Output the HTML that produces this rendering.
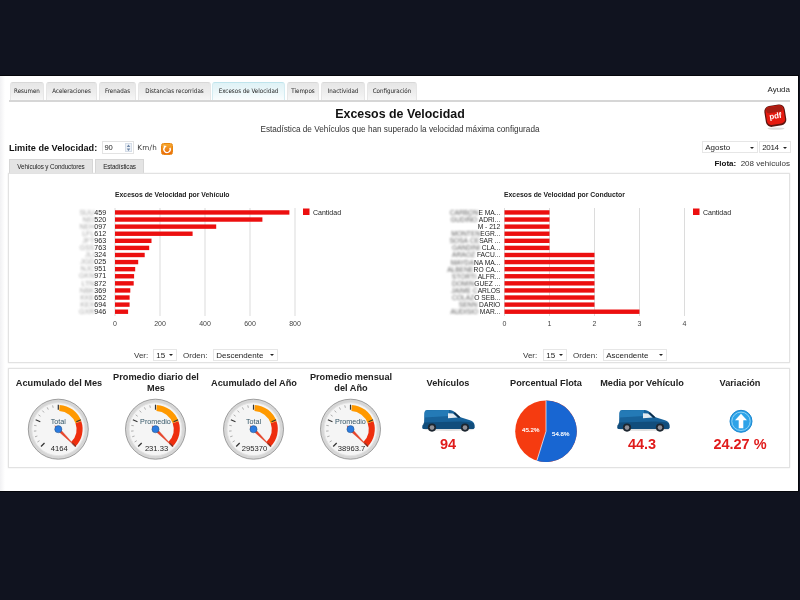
<!DOCTYPE html>
<html><head><meta charset="utf-8"><title>Excesos de Velocidad</title>
<style>
html,body{margin:0;padding:0}
body{width:800px;height:600px;overflow:hidden;background:#10131f;font-family:"Liberation Sans",Arial,sans-serif;position:relative;color:#222}
#page{position:absolute;left:0;top:76px;width:798px;height:415px;background:linear-gradient(90deg,#f1f1f3,#fff 5px);box-shadow:0 0 0 1px #05060b}
#soft{position:absolute;left:0;top:0;width:798px;height:415px;filter:blur(0.35px)}
.abs{position:absolute;white-space:nowrap}
.tab{position:absolute;top:6px;height:17.5px;background:linear-gradient(#e6e6e6,#eee 60%,#f6f6f6);border:1px solid #e6e6e6;border-top-color:#d8d8d8;border-bottom:none;border-radius:3px 3px 0 0;box-sizing:border-box;font-family:"DejaVu Sans Condensed","DejaVu Sans","Liberation Sans",sans-serif;font-size:6.2px;line-height:16.5px;text-align:center;color:#222;white-space:nowrap}
.tab.act{background:linear-gradient(#dff2f6,#eef8fa 60%,#fafdfe);border-color:#d4ecf2;border-top:1.5px solid #bfe4ec;line-height:16px}
.hr{position:absolute;left:9px;top:24px;width:781px;height:2px;background:#d6d6d6}
.stab{position:absolute;top:83px;height:14px;background:#e4e4e4;border:1px solid #d6d6d6;border-bottom:none;box-sizing:border-box;font-size:6.3px;line-height:13px;text-align:center;color:#222;white-space:nowrap;letter-spacing:-0.1px}
.panel{position:absolute;left:8.3px;width:782.2px;border:1px solid #e2e2e2;box-sizing:border-box;background:#fff;box-shadow:0 0 1.5px #e4e4e4}
.sel{position:absolute;height:12px;border:1px solid #e6e6e6;box-sizing:border-box;background:#fff;font-size:8px;line-height:12px;padding-left:2.2px;color:#222;white-space:nowrap}
.sel:after{content:"";position:absolute;right:3px;top:4.5px;border:2.2px solid transparent;border-top:2.6px solid #222}
.h{position:absolute;font-weight:bold;font-size:9.2px;line-height:11px;text-align:center;color:#222;width:110px}
.num{position:absolute;font-weight:bold;font-size:14.5px;line-height:16px;text-align:center;color:#e01b1b;width:110px}
svg text{font-family:"Liberation Sans",Arial,sans-serif}
.ct{font-size:6.85px;font-weight:bold;fill:#222}
.ax{font-size:7px;fill:#444}
.lb,.lb2{position:absolute;white-space:pre;line-height:9px;color:#222;text-align:right}
.lb{font-size:7.1px}
.lb2{font-size:6.7px}
.bl,.bl2{display:inline-block;filter:blur(0.9px)}
.bl{color:#a8a8a8}
.bl2{color:#5c5c5c}
.lg{font-size:7px;fill:#222}
.gl{font-size:7.2px;fill:#356}
.gv{font-size:7.6px;fill:#222}
.pl{font-size:6.1px;fill:#fff;stroke:#fff;stroke-width:.15px}
</style></head><body>
<div id="page"><div id="soft">
<div class="tab" style="left:10px;width:34px">Resumen</div>
<div class="tab" style="left:46px;width:51px">Aceleraciones</div>
<div class="tab" style="left:99px;width:37px">Frenadas</div>
<div class="tab" style="left:138px;width:73px">Distancias recorridas</div>
<div class="tab act" style="left:212px;width:73px">Excesos de Velocidad</div>
<div class="tab" style="left:287px;width:32px">Tiempos</div>
<div class="tab" style="left:321px;width:44px">Inactividad</div>
<div class="tab" style="left:367px;width:50px">Configuración</div>

<div class="abs" style="right:8px;top:9px;font-size:8px;line-height:10px;color:#222">Ayuda</div>
<div class="hr"></div>
<div class="abs" style="left:0;width:800px;top:31px;text-align:center;font-weight:bold;font-size:12.4px;line-height:14px;color:#111">Excesos de Velocidad</div>
<div class="abs" style="left:0;width:800px;top:48.7px;text-align:center;font-size:8.2px;line-height:10px;color:#333">Estadística de Vehículos que han superado la velocidad máxima configurada</div>
<div class="abs" style="left:9px;top:65.7px;font-weight:bold;font-size:9.15px;line-height:13px;color:#111">Limite de Velocidad:</div>
<div class="abs" style="left:102px;top:65px;width:32px;height:12.5px;border:1px solid #e3e3e3;box-sizing:border-box;font-size:7.6px;line-height:11.5px;padding-left:1.4px;color:#222">90</div>
<div class="abs" style="left:125px;top:66.5px;width:7px;height:9.5px;background:#eef2f7;border:1px solid #d5dde8;box-sizing:border-box"></div>
<svg class="abs" style="left:125px;top:66.5px" width="7" height="9.5" viewBox="0 0 7 9.5"><path d="M3.5 1.6L5.3 4H1.7Z M3.5 7.9L5.3 5.5H1.7Z" fill="#6f87a8"/></svg>
<div class="abs" style="left:137.3px;top:66.8px;font-family:'DejaVu Sans','Liberation Sans',sans-serif;font-size:7.2px;line-height:10px;letter-spacing:0.25px;color:#333">Km/h</div>
<div class="abs" style="left:160.8px;top:67.2px;width:12.5px;height:11.6px;border-radius:2.5px;background:linear-gradient(#f6a92e,#ea6a0c);border:1px solid #e8860f;box-sizing:border-box"></div>
<svg class="abs" style="left:160.8px;top:66.6px" width="12.5" height="12.5" viewBox="0 0 13 13"><path d="M4 4.2A3.3 3.3 0 1 0 9.2 5" fill="none" stroke="#fff" stroke-width="1.4"/><path d="M2.6 2.6L6 3L3.4 5.8Z" fill="#fff"/></svg>
<div class="sel" style="left:702px;top:65px;width:56px">Agosto</div>
<div class="sel" style="left:759px;top:65px;width:32px;letter-spacing:-0.35px">2014</div>
<div class="abs" style="right:8px;top:83px;font-size:8px;line-height:10px;color:#333"><b style="color:#111">Flota:</b>&nbsp; 208 vehículos</div>
<div class="stab" style="left:9px;width:84px">Vehículos y Conductores</div>
<div class="stab" style="left:95px;width:49px">Estadísticas</div>
<div class="panel" style="top:97px;height:189.6px"></div>
<div class="panel" style="top:292.4px;height:99.4px"></div>

<!-- pdf icon -->
<svg class="abs" style="left:760px;top:24px" width="32" height="32" viewBox="0 0 32 32">
<ellipse cx="16" cy="28.6" rx="8.5" ry="1.1" fill="#ddd"/>
<g transform="rotate(-9 15.2 15.5)">
<rect x="5" y="5.2" width="20.6" height="21" rx="5.5" fill="#5a1610"/>
<rect x="6.2" y="6" width="18.2" height="18.4" rx="4.2" fill="#e51a10"/>
<rect x="7" y="6.4" width="16.6" height="6" rx="3" fill="#8f1f16" opacity=".7"/>
<text x="15.3" y="18.6" text-anchor="middle" font-size="8" font-weight="bold" fill="#fff">pdf</text>
</g></svg>

<div class="abs" style="left:134px;top:274.5px;font-size:8px;line-height:10px;color:#333">Ver:</div>
<div class="sel" style="left:153px;top:272.6px;width:24px">15</div>
<div class="abs" style="left:183px;top:274.5px;font-size:8px;line-height:10px;color:#333">Orden:</div>
<div class="sel" style="left:213px;top:272.6px;width:65px">Descendente</div>
<div class="abs" style="left:523px;top:274.5px;font-size:8px;line-height:10px;color:#333">Ver:</div>
<div class="sel" style="left:543px;top:272.6px;width:24px">15</div>
<div class="abs" style="left:573px;top:274.5px;font-size:8px;line-height:10px;color:#333">Orden:</div>
<div class="sel" style="left:603px;top:272.6px;width:64px">Ascendente</div>

<div class="h" style="left:4px;top:301.6px">Acumulado del Mes</div>
<div class="h" style="left:101px;top:296px">Promedio diario del<br>Mes</div>
<div class="h" style="left:199px;top:301.6px">Acumulado del Año</div>
<div class="h" style="left:296px;top:296px">Promedio mensual<br>del Año</div>
<div class="h" style="left:393px;top:301.6px">Vehículos</div>
<div class="h" style="left:491px;top:301.6px">Porcentual Flota</div>
<div class="h" style="left:587px;top:301.6px">Media por Vehículo</div>
<div class="h" style="left:685px;top:301.6px">Variación</div>
<div class="num" style="left:393px;top:360px">94</div>
<div class="num" style="left:587px;top:360px">44.3</div>
<div class="num" style="left:685px;top:360px">24.27 %</div>

<div class="lb" style="right:691.8px;top:132.65px"><span class="bl">SUU</span>459</div>
<div class="lb" style="right:691.8px;top:139.74px"><span class="bl">NEI</span>520</div>
<div class="lb" style="right:691.8px;top:146.83px"><span class="bl">NEH</span>097</div>
<div class="lb" style="right:691.8px;top:153.92px"><span class="bl">LFL</span>612</div>
<div class="lb" style="right:691.8px;top:161.01px"><span class="bl">JFT</span>963</div>
<div class="lb" style="right:691.8px;top:168.10px"><span class="bl">GSS</span>763</div>
<div class="lb" style="right:691.8px;top:175.19px"><span class="bl">JLI</span>324</div>
<div class="lb" style="right:691.8px;top:182.28px"><span class="bl">JGD</span>025</div>
<div class="lb" style="right:691.8px;top:189.37px"><span class="bl">NJC</span>951</div>
<div class="lb" style="right:691.8px;top:196.46px"><span class="bl">GKN</span>971</div>
<div class="lb" style="right:691.8px;top:203.55px"><span class="bl">LTN</span>872</div>
<div class="lb" style="right:691.8px;top:210.64px"><span class="bl">NBK</span>369</div>
<div class="lb" style="right:691.8px;top:217.73px"><span class="bl">KKE</span>652</div>
<div class="lb" style="right:691.8px;top:224.82px"><span class="bl">KEX</span>694</div>
<div class="lb" style="right:691.8px;top:231.91px"><span class="bl">GXR</span>946</div>
<div class="lb2" style="right:297.7px;top:131.95px"><span class="bl2">CARBON</span>E MA...</div>
<div class="lb2" style="right:297.7px;top:139.04px"><span class="bl2">GUDIÑO</span> ADRI...</div>
<div class="lb2" style="right:297.7px;top:146.13px"><span class="bl2"></span>M - 212</div>
<div class="lb2" style="right:297.7px;top:153.22px"><span class="bl2">MONTEN</span>EGR...</div>
<div class="lb2" style="right:297.7px;top:160.31px"><span class="bl2">SOSA&nbsp;CE</span>SAR ...</div>
<div class="lb2" style="right:297.7px;top:167.40px"><span class="bl2">GANDINI</span> CLA...</div>
<div class="lb2" style="right:297.7px;top:174.49px"><span class="bl2">ARAOZ</span> FACU...</div>
<div class="lb2" style="right:297.7px;top:181.58px"><span class="bl2">MAYDA</span>NA MA...</div>
<div class="lb2" style="right:297.7px;top:188.67px"><span class="bl2">ALBENE</span>RO CA...</div>
<div class="lb2" style="right:297.7px;top:195.76px"><span class="bl2">STORTI</span> ALFR...</div>
<div class="lb2" style="right:297.7px;top:202.85px"><span class="bl2">DOMIN</span>GUEZ ...</div>
<div class="lb2" style="right:297.7px;top:209.94px"><span class="bl2">JAIME&nbsp;C</span>ARLOS</div>
<div class="lb2" style="right:297.7px;top:217.03px"><span class="bl2">COLAZ</span>O SEB...</div>
<div class="lb2" style="right:297.7px;top:224.12px"><span class="bl2">SENN</span> DARIO</div>
<div class="lb2" style="right:297.7px;top:231.21px"><span class="bl2">AUDISIO</span> MAR...</div>
<svg class="abs" style="left:0;top:-76px" width="800" height="600" viewBox="0 0 800 600">
<text x="115" y="196.5" class="ct">Excesos de Velocidad por Vehículo</text>
<rect x="114.5" y="208" width="1" height="108" fill="#dcdcdc"/>
<text x="115.0" y="326" class="ax" text-anchor="middle">0</text>
<rect x="159.5" y="208" width="1" height="108" fill="#dcdcdc"/>
<text x="160.0" y="326" class="ax" text-anchor="middle">200</text>
<rect x="204.5" y="208" width="1" height="108" fill="#dcdcdc"/>
<text x="205.0" y="326" class="ax" text-anchor="middle">400</text>
<rect x="249.5" y="208" width="1" height="108" fill="#dcdcdc"/>
<text x="250.0" y="326" class="ax" text-anchor="middle">600</text>
<rect x="294.5" y="208" width="1" height="108" fill="#dcdcdc"/>
<text x="295.0" y="326" class="ax" text-anchor="middle">800</text>
<rect x="115" y="210.25" width="174.4" height="4.4" fill="#ec0f0f"/>
<rect x="115" y="217.34" width="147.4" height="4.4" fill="#ec0f0f"/>
<rect x="115" y="224.43" width="101.2" height="4.4" fill="#ec0f0f"/>
<rect x="115" y="231.52" width="77.6" height="4.4" fill="#ec0f0f"/>
<rect x="115" y="238.61" width="36.5" height="4.4" fill="#ec0f0f"/>
<rect x="115" y="245.70" width="34.2" height="4.4" fill="#ec0f0f"/>
<rect x="115" y="252.79" width="29.7" height="4.4" fill="#ec0f0f"/>
<rect x="115" y="259.88" width="23.2" height="4.4" fill="#ec0f0f"/>
<rect x="115" y="266.97" width="20.2" height="4.4" fill="#ec0f0f"/>
<rect x="115" y="274.06" width="19.1" height="4.4" fill="#ec0f0f"/>
<rect x="115" y="281.15" width="18.7" height="4.4" fill="#ec0f0f"/>
<rect x="115" y="288.24" width="15.3" height="4.4" fill="#ec0f0f"/>
<rect x="115" y="295.33" width="14.6" height="4.4" fill="#ec0f0f"/>
<rect x="115" y="302.42" width="14.6" height="4.4" fill="#ec0f0f"/>
<rect x="115" y="309.51" width="13.1" height="4.4" fill="#ec0f0f"/>
<rect x="303" y="208.5" width="6.5" height="6.5" fill="#ec0f0f"/>
<text x="313" y="215" class="lg">Cantidad</text>
<text x="504" y="196.5" class="ct">Excesos de Velocidad por Conductor</text>
<rect x="504.0" y="208" width="1" height="108" fill="#dcdcdc"/>
<text x="504.5" y="326" class="ax" text-anchor="middle">0</text>
<rect x="549.0" y="208" width="1" height="108" fill="#dcdcdc"/>
<text x="549.5" y="326" class="ax" text-anchor="middle">1</text>
<rect x="594.0" y="208" width="1" height="108" fill="#dcdcdc"/>
<text x="594.5" y="326" class="ax" text-anchor="middle">2</text>
<rect x="639.0" y="208" width="1" height="108" fill="#dcdcdc"/>
<text x="639.5" y="326" class="ax" text-anchor="middle">3</text>
<rect x="684.0" y="208" width="1" height="108" fill="#dcdcdc"/>
<text x="684.5" y="326" class="ax" text-anchor="middle">4</text>
<rect x="504.5" y="210.25" width="45.0" height="4.4" fill="#ec0f0f"/>
<rect x="504.5" y="217.34" width="45.0" height="4.4" fill="#ec0f0f"/>
<rect x="504.5" y="224.43" width="45.0" height="4.4" fill="#ec0f0f"/>
<rect x="504.5" y="231.52" width="45.0" height="4.4" fill="#ec0f0f"/>
<rect x="504.5" y="238.61" width="45.0" height="4.4" fill="#ec0f0f"/>
<rect x="504.5" y="245.70" width="45.0" height="4.4" fill="#ec0f0f"/>
<rect x="504.5" y="252.79" width="90.0" height="4.4" fill="#ec0f0f"/>
<rect x="504.5" y="259.88" width="90.0" height="4.4" fill="#ec0f0f"/>
<rect x="504.5" y="266.97" width="90.0" height="4.4" fill="#ec0f0f"/>
<rect x="504.5" y="274.06" width="90.0" height="4.4" fill="#ec0f0f"/>
<rect x="504.5" y="281.15" width="90.0" height="4.4" fill="#ec0f0f"/>
<rect x="504.5" y="288.24" width="90.0" height="4.4" fill="#ec0f0f"/>
<rect x="504.5" y="295.33" width="90.0" height="4.4" fill="#ec0f0f"/>
<rect x="504.5" y="302.42" width="90.0" height="4.4" fill="#ec0f0f"/>
<rect x="504.5" y="309.51" width="135.0" height="4.4" fill="#ec0f0f"/>
<rect x="693" y="208.5" width="6.5" height="6.5" fill="#ec0f0f"/>
<text x="703" y="215" class="lg">Cantidad</text>
<circle cx="58.3" cy="429.2" r="30" fill="#d6d6d6" stroke="#8a8a8a" stroke-width="0.8"/>
<circle cx="58.3" cy="429.2" r="26.5" fill="#f5f5f5" stroke="#e4e4e4" stroke-width="1"/>
<path d="M59.57 404.93A24.3 24.3 0 0 1 81.28 421.29L75.51 423.27A18.2 18.2 0 0 0 59.25 411.02Z" fill="#ff9900"/>
<path d="M81.28 421.29A24.3 24.3 0 0 1 75.48 446.38L71.17 442.07A18.2 18.2 0 0 0 75.51 423.27Z" fill="#ee2e0e"/>
<line x1="44.51" y1="442.99" x2="40.98" y2="446.52" stroke="#333" stroke-width="1.2"/>
<line x1="39.54" y1="440.69" x2="37.41" y2="442.00" stroke="#666" stroke-width="0.5"/>
<line x1="37.38" y1="436.00" x2="35.00" y2="436.77" stroke="#666" stroke-width="0.5"/>
<line x1="36.37" y1="430.93" x2="33.88" y2="431.12" stroke="#666" stroke-width="0.5"/>
<line x1="36.57" y1="425.76" x2="34.10" y2="425.37" stroke="#666" stroke-width="0.5"/>
<line x1="40.28" y1="421.74" x2="35.66" y2="419.82" stroke="#333" stroke-width="1.2"/>
<line x1="40.50" y1="416.27" x2="38.48" y2="414.80" stroke="#666" stroke-width="0.5"/>
<line x1="44.01" y1="412.47" x2="42.39" y2="410.57" stroke="#666" stroke-width="0.5"/>
<line x1="48.31" y1="409.60" x2="47.18" y2="407.37" stroke="#666" stroke-width="0.5"/>
<line x1="53.16" y1="407.81" x2="52.58" y2="405.38" stroke="#666" stroke-width="0.5"/>
<line x1="58.30" y1="409.70" x2="58.30" y2="404.70" stroke="#333" stroke-width="1.2"/>
<line x1="76.32" y1="421.74" x2="80.94" y2="419.82" stroke="#333" stroke-width="1.2"/>
<line x1="72.09" y1="442.99" x2="75.62" y2="446.52" stroke="#333" stroke-width="1.2"/>
<text x="58.3" y="423.59999999999997" class="gl" text-anchor="middle">Total</text>
<text x="59.3" y="450.7" class="gv" text-anchor="middle">4164</text>
<path d="M75.98 446.88L59.36 428.14L54.76 425.66L57.24 430.26Z" fill="#e8452a" stroke="#d23a22" stroke-width="0.3"/>
<circle cx="58.3" cy="429.2" r="3.6" fill="#2a7be0" stroke="#246" stroke-width="0.4"/>
<circle cx="155.5" cy="429.2" r="30" fill="#d6d6d6" stroke="#8a8a8a" stroke-width="0.8"/>
<circle cx="155.5" cy="429.2" r="26.5" fill="#f5f5f5" stroke="#e4e4e4" stroke-width="1"/>
<path d="M156.77 404.93A24.3 24.3 0 0 1 178.48 421.29L172.71 423.27A18.2 18.2 0 0 0 156.45 411.02Z" fill="#ff9900"/>
<path d="M178.48 421.29A24.3 24.3 0 0 1 172.68 446.38L168.37 442.07A18.2 18.2 0 0 0 172.71 423.27Z" fill="#ee2e0e"/>
<line x1="141.71" y1="442.99" x2="138.18" y2="446.52" stroke="#333" stroke-width="1.2"/>
<line x1="136.74" y1="440.69" x2="134.61" y2="442.00" stroke="#666" stroke-width="0.5"/>
<line x1="134.58" y1="436.00" x2="132.20" y2="436.77" stroke="#666" stroke-width="0.5"/>
<line x1="133.57" y1="430.93" x2="131.08" y2="431.12" stroke="#666" stroke-width="0.5"/>
<line x1="133.77" y1="425.76" x2="131.30" y2="425.37" stroke="#666" stroke-width="0.5"/>
<line x1="137.48" y1="421.74" x2="132.86" y2="419.82" stroke="#333" stroke-width="1.2"/>
<line x1="137.70" y1="416.27" x2="135.68" y2="414.80" stroke="#666" stroke-width="0.5"/>
<line x1="141.21" y1="412.47" x2="139.59" y2="410.57" stroke="#666" stroke-width="0.5"/>
<line x1="145.51" y1="409.60" x2="144.38" y2="407.37" stroke="#666" stroke-width="0.5"/>
<line x1="150.36" y1="407.81" x2="149.78" y2="405.38" stroke="#666" stroke-width="0.5"/>
<line x1="155.50" y1="409.70" x2="155.50" y2="404.70" stroke="#333" stroke-width="1.2"/>
<line x1="173.52" y1="421.74" x2="178.14" y2="419.82" stroke="#333" stroke-width="1.2"/>
<line x1="169.29" y1="442.99" x2="172.82" y2="446.52" stroke="#333" stroke-width="1.2"/>
<text x="155.5" y="423.59999999999997" class="gl" text-anchor="middle">Promedio</text>
<text x="156.5" y="450.7" class="gv" text-anchor="middle">231.33</text>
<path d="M173.18 446.88L156.56 428.14L151.96 425.66L154.44 430.26Z" fill="#e8452a" stroke="#d23a22" stroke-width="0.3"/>
<circle cx="155.5" cy="429.2" r="3.6" fill="#2a7be0" stroke="#246" stroke-width="0.4"/>
<circle cx="253.5" cy="429.2" r="30" fill="#d6d6d6" stroke="#8a8a8a" stroke-width="0.8"/>
<circle cx="253.5" cy="429.2" r="26.5" fill="#f5f5f5" stroke="#e4e4e4" stroke-width="1"/>
<path d="M254.77 404.93A24.3 24.3 0 0 1 276.48 421.29L270.71 423.27A18.2 18.2 0 0 0 254.45 411.02Z" fill="#ff9900"/>
<path d="M276.48 421.29A24.3 24.3 0 0 1 270.68 446.38L266.37 442.07A18.2 18.2 0 0 0 270.71 423.27Z" fill="#ee2e0e"/>
<line x1="239.71" y1="442.99" x2="236.18" y2="446.52" stroke="#333" stroke-width="1.2"/>
<line x1="234.74" y1="440.69" x2="232.61" y2="442.00" stroke="#666" stroke-width="0.5"/>
<line x1="232.58" y1="436.00" x2="230.20" y2="436.77" stroke="#666" stroke-width="0.5"/>
<line x1="231.57" y1="430.93" x2="229.08" y2="431.12" stroke="#666" stroke-width="0.5"/>
<line x1="231.77" y1="425.76" x2="229.30" y2="425.37" stroke="#666" stroke-width="0.5"/>
<line x1="235.48" y1="421.74" x2="230.86" y2="419.82" stroke="#333" stroke-width="1.2"/>
<line x1="235.70" y1="416.27" x2="233.68" y2="414.80" stroke="#666" stroke-width="0.5"/>
<line x1="239.21" y1="412.47" x2="237.59" y2="410.57" stroke="#666" stroke-width="0.5"/>
<line x1="243.51" y1="409.60" x2="242.38" y2="407.37" stroke="#666" stroke-width="0.5"/>
<line x1="248.36" y1="407.81" x2="247.78" y2="405.38" stroke="#666" stroke-width="0.5"/>
<line x1="253.50" y1="409.70" x2="253.50" y2="404.70" stroke="#333" stroke-width="1.2"/>
<line x1="271.52" y1="421.74" x2="276.14" y2="419.82" stroke="#333" stroke-width="1.2"/>
<line x1="267.29" y1="442.99" x2="270.82" y2="446.52" stroke="#333" stroke-width="1.2"/>
<text x="253.5" y="423.59999999999997" class="gl" text-anchor="middle">Total</text>
<text x="254.5" y="450.7" class="gv" text-anchor="middle">295370</text>
<path d="M271.18 446.88L254.56 428.14L249.96 425.66L252.44 430.26Z" fill="#e8452a" stroke="#d23a22" stroke-width="0.3"/>
<circle cx="253.5" cy="429.2" r="3.6" fill="#2a7be0" stroke="#246" stroke-width="0.4"/>
<circle cx="350.5" cy="429.2" r="30" fill="#d6d6d6" stroke="#8a8a8a" stroke-width="0.8"/>
<circle cx="350.5" cy="429.2" r="26.5" fill="#f5f5f5" stroke="#e4e4e4" stroke-width="1"/>
<path d="M351.77 404.93A24.3 24.3 0 0 1 373.48 421.29L367.71 423.27A18.2 18.2 0 0 0 351.45 411.02Z" fill="#ff9900"/>
<path d="M373.48 421.29A24.3 24.3 0 0 1 367.68 446.38L363.37 442.07A18.2 18.2 0 0 0 367.71 423.27Z" fill="#ee2e0e"/>
<line x1="336.71" y1="442.99" x2="333.18" y2="446.52" stroke="#333" stroke-width="1.2"/>
<line x1="331.74" y1="440.69" x2="329.61" y2="442.00" stroke="#666" stroke-width="0.5"/>
<line x1="329.58" y1="436.00" x2="327.20" y2="436.77" stroke="#666" stroke-width="0.5"/>
<line x1="328.57" y1="430.93" x2="326.08" y2="431.12" stroke="#666" stroke-width="0.5"/>
<line x1="328.77" y1="425.76" x2="326.30" y2="425.37" stroke="#666" stroke-width="0.5"/>
<line x1="332.48" y1="421.74" x2="327.86" y2="419.82" stroke="#333" stroke-width="1.2"/>
<line x1="332.70" y1="416.27" x2="330.68" y2="414.80" stroke="#666" stroke-width="0.5"/>
<line x1="336.21" y1="412.47" x2="334.59" y2="410.57" stroke="#666" stroke-width="0.5"/>
<line x1="340.51" y1="409.60" x2="339.38" y2="407.37" stroke="#666" stroke-width="0.5"/>
<line x1="345.36" y1="407.81" x2="344.78" y2="405.38" stroke="#666" stroke-width="0.5"/>
<line x1="350.50" y1="409.70" x2="350.50" y2="404.70" stroke="#333" stroke-width="1.2"/>
<line x1="368.52" y1="421.74" x2="373.14" y2="419.82" stroke="#333" stroke-width="1.2"/>
<line x1="364.29" y1="442.99" x2="367.82" y2="446.52" stroke="#333" stroke-width="1.2"/>
<text x="350.5" y="423.59999999999997" class="gl" text-anchor="middle">Promedio</text>
<text x="351.5" y="450.7" class="gv" text-anchor="middle">38963.7</text>
<path d="M368.18 446.88L351.56 428.14L346.96 425.66L349.44 430.26Z" fill="#e8452a" stroke="#d23a22" stroke-width="0.3"/>
<circle cx="350.5" cy="429.2" r="3.6" fill="#2a7be0" stroke="#246" stroke-width="0.4"/>
<g transform="translate(422,408)">
<ellipse cx="27" cy="21.6" rx="25" ry="1.3" fill="#c9c9c9" opacity=".6"/>
<path d="M0.4 19.5 L0.6 17.5 L2 16.5 L2.4 5 Q2.6 2.2 5 2 L28 1.9 Q30 2 32 3.4 L38.5 9.3 L48 12.2 Q52 13.6 52.4 16.5 L52.5 19.5 Q52.4 21 50.5 21 L2 21 Q0.4 21 0.4 19.5Z" fill="#18629a"/>
<path d="M2.6 4 Q3 2.4 5 2.2 L27 2.1 L27 8 L2.4 9.5Z" fill="#2a84c2" opacity=".7"/>
<path d="M2 14.5 L38 13.5 L49 14.2 Q52 15 52.4 17 L52.5 19.5 Q52.4 21 50.5 21 L2 21 Q0.4 21 0.4 19.5 L0.6 17.5Z" fill="#114a77" opacity=".85"/>
<path d="M26 5.2 L31 5.4 L35.5 9.6 L26 10.3Z" fill="#e4ebf1"/>
<path d="M31.6 5 L33 4.2 L38.6 9.4 L36.4 9.8Z" fill="#0e2a44"/>
<circle cx="10" cy="19.6" r="4.1" fill="#1c2630"/><circle cx="10" cy="19.6" r="2.3" fill="#8f8f96"/>
<circle cx="43" cy="19.6" r="4.1" fill="#1c2630"/><circle cx="43" cy="19.6" r="2.3" fill="#8f8f96"/>
</g>
<g transform="translate(617,408)">
<ellipse cx="27" cy="21.6" rx="25" ry="1.3" fill="#c9c9c9" opacity=".6"/>
<path d="M0.4 19.5 L0.6 17.5 L2 16.5 L2.4 5 Q2.6 2.2 5 2 L28 1.9 Q30 2 32 3.4 L38.5 9.3 L48 12.2 Q52 13.6 52.4 16.5 L52.5 19.5 Q52.4 21 50.5 21 L2 21 Q0.4 21 0.4 19.5Z" fill="#18629a"/>
<path d="M2.6 4 Q3 2.4 5 2.2 L27 2.1 L27 8 L2.4 9.5Z" fill="#2a84c2" opacity=".7"/>
<path d="M2 14.5 L38 13.5 L49 14.2 Q52 15 52.4 17 L52.5 19.5 Q52.4 21 50.5 21 L2 21 Q0.4 21 0.4 19.5 L0.6 17.5Z" fill="#114a77" opacity=".85"/>
<path d="M26 5.2 L31 5.4 L35.5 9.6 L26 10.3Z" fill="#e4ebf1"/>
<path d="M31.6 5 L33 4.2 L38.6 9.4 L36.4 9.8Z" fill="#0e2a44"/>
<circle cx="10" cy="19.6" r="4.1" fill="#1c2630"/><circle cx="10" cy="19.6" r="2.3" fill="#8f8f96"/>
<circle cx="43" cy="19.6" r="4.1" fill="#1c2630"/><circle cx="43" cy="19.6" r="2.3" fill="#8f8f96"/>
</g>
<circle cx="546" cy="431.3" r="30.8" fill="#f53b10"/><path d="M546 431.3L546 400.5A30.8 30.8 0 1 1 536.85 460.71Z" fill="#1866d2"/><path d="M546 400.5L546 431.3L536.85 460.71" fill="none" stroke="#fff" stroke-width="0.7"/><text x="530.7" y="431.7" class="pl" text-anchor="middle">45.2%</text><text x="560.7" y="436.40000000000003" class="pl" text-anchor="middle">54.8%</text>
<circle cx="741" cy="421.3" r="11" fill="#2da3e8" stroke="#1b86cf" stroke-width="1"/>
<circle cx="741" cy="421.3" r="9.2" fill="none" stroke="#8fd3f7" stroke-width="1"/>
<path d="M741 413.8 L747 420.3 L743.3 420.3 L743.3 428.3 L738.7 428.3 L738.7 420.3 L735 420.3Z" fill="#fff"/>
</svg>
</div></div>
</body></html>
